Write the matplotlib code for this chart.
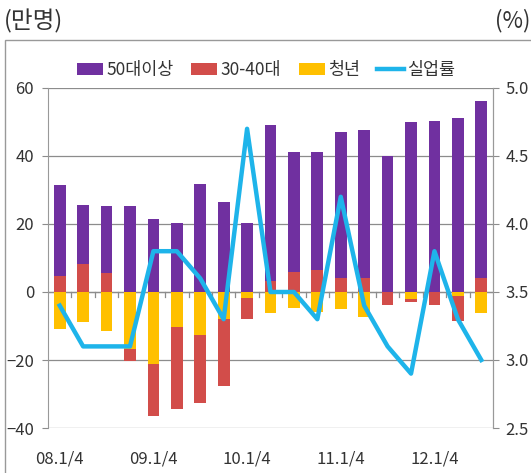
import numpy as np
import matplotlib
matplotlib.use('Agg')
import matplotlib.pyplot as plt
from matplotlib.patches import Rectangle

plt.rcParams['font.family'] = ['Noto Sans CJK KR', 'DejaVu Sans']

quarters = ['08.1/4', '08.2/4', '08.3/4', '08.4/4',
            '09.1/4', '09.2/4', '09.3/4', '09.4/4',
            '10.1/4', '10.2/4', '10.3/4', '10.4/4',
            '11.1/4', '11.2/4', '11.3/4', '11.4/4',
            '12.1/4', '12.2/4', '12.3/4']
older = [26.9, 17.5, 19.8, 25.3, 21.6, 20.3, 31.9, 26.5, 20.3, 45.8,
         35.3, 34.9, 42.9, 43.4, 39.9, 49.9, 50.3, 51.2, 51.9]  # 50대이상
middle = [4.6, 8.2, 5.5, -3.5, -15.3, -24.1, -20.0, -19.5, -6.2, 3.2,
          6.0, 6.4, 4.2, 4.2, -3.8, -1.0, -3.8, -7.1, 4.2]  # 30-40대
youth = [-11.0, -8.8, -11.5, -16.9, -21.3, -10.2, -12.5, -8.0, -1.7, -6.1,
         -4.7, -6.0, -5.1, -7.4, 0.0, -2.0, 0.0, -1.3, -6.1]  # 청년
rate = [3.4, 3.1, 3.1, 3.1, 3.8, 3.8, 3.6, 3.3, 4.7, 3.5,
        3.5, 3.3, 4.2, 3.4, 3.1, 2.9, 3.8, 3.3, 3.0]  # 실업률

older = np.array(older)
middle = np.array(middle)
youth = np.array(youth)
x = np.arange(len(quarters))

purple = '#7030A0'
red = '#D24D4A'
yellow = '#FFC000'
blue = '#1EB4EA'
txt = '#333333'

fig = plt.figure(figsize=(5.31, 4.73), dpi=100)
ax = fig.add_axes([48/531, 1-428/473, 445/531, 340/473])

# outer chart border
fig.patches.append(Rectangle((5/531, -0.02), 1.0, 1-40/473+0.02, transform=fig.transFigure,
                             fill=False, edgecolor='#999999', linewidth=1.0))

w = 0.5
ax.bar(x, youth, w, color=yellow, label='청년', zorder=2)
ax.bar(x, middle, w, bottom=np.where(middle >= 0, 0, youth), color=red, label='30-40대', zorder=2)
ax.bar(x, older, w, bottom=np.where(middle > 0, middle, 0), color=purple, label='50대이상', zorder=2)

ax.set_xlim(-0.5, len(x) - 0.5)
ax.set_ylim(-40, 60)
ax.set_yticks(range(-40, 61, 20))
ax.yaxis.grid(True, color='#8c8c8c', linewidth=0.9)
ax.set_axisbelow(True)
ax.axhline(0, color='#8c8c8c', linewidth=0.9, zorder=1)
# small category ticks along the zero line
for b in x[:-1] + 0.5:
    ax.plot([b, b], [0, -1.4], color='#8c8c8c', linewidth=0.9, zorder=1)

ax.set_xticks(x[::4])
ax.set_xticklabels([quarters[i] for i in x[::4]])
ax.tick_params(axis='x', length=0, pad=16, labelsize=12, labelcolor=txt)
ax.tick_params(axis='y', length=4, color='#8c8c8c', labelsize=12, labelcolor=txt, pad=6)
for s in ['top', 'bottom']:
    ax.spines[s].set_visible(False)
for s in ['left', 'right']:
    ax.spines[s].set_color('#999999')

ax2 = ax.twinx()
ax2.plot(x, rate, color=blue, linewidth=3.2, label='실업률', zorder=5)
ax2.set_ylim(2.5, 5.0)
ax2.set_yticks(np.arange(2.5, 5.01, 0.5))
ax2.set_yticklabels([f'{v:.1f}' for v in np.arange(2.5, 5.01, 0.5)])
ax2.tick_params(axis='y', length=4, color='#8c8c8c', labelsize=12, labelcolor=txt, pad=5)
for s in ['top', 'bottom', 'left']:
    ax2.spines[s].set_visible(False)
ax2.spines['right'].set_color('#999999')

h1, l1 = ax.get_legend_handles_labels()
h2, l2 = ax2.get_legend_handles_labels()
order = [2, 1, 0]
handles = [h1[i] for i in order] + h2
labels = [l1[i] for i in order] + l2
ax.legend(handles, labels, ncol=4, loc='center', bbox_to_anchor=(0.49, 1.053),
          frameon=False, fontsize=12.5, handlelength=1.5, handletextpad=0.2,
          columnspacing=1.0, labelcolor=txt)

fig.text(4/531, 1-21/473, '(만명)', fontsize=17, color=txt, va='center', ha='left')
fig.text(530/531, 1-21/473, '(%)', fontsize=16, color=txt, va='center', ha='right')

fig.savefig('out.png', dpi=100)
